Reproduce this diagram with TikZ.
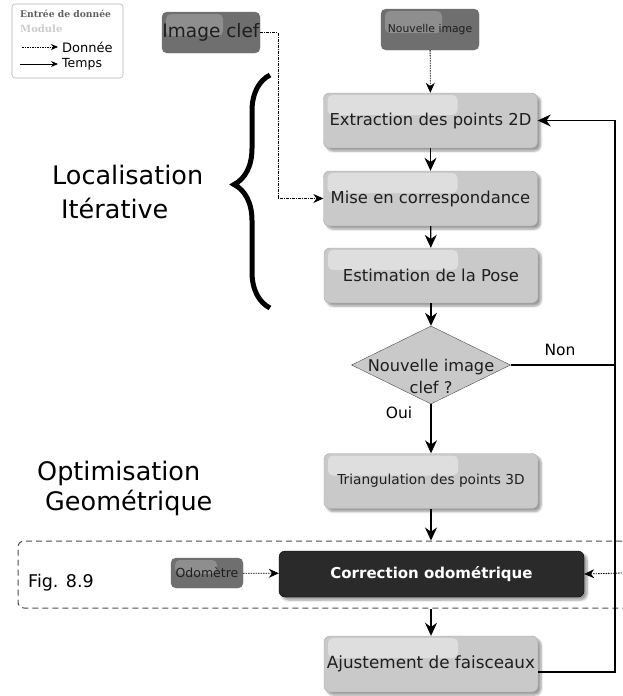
\documentclass[tikz,border=0pt]{standalone}
\usepackage{fontspec}
\setmainfont{DejaVu Sans}
\newfontfamily\legserif{DejaVu Serif}
\usetikzlibrary{shapes.geometric, arrows.meta, shadows.blur, decorations.pathreplacing, calc}

\definecolor{boxgray}{HTML}{C9C9C9}
\definecolor{darkbox}{HTML}{6F6F6F}
\definecolor{nightbox}{HTML}{2A2A2A}
\definecolor{inkgray}{HTML}{1E1E1E}

\begin{document}
\begin{tikzpicture}[x=1pt, y=1pt,
    % glossy highlight in the upper left corner of a box, drawn under its text
    glare/.style n args={3}{path picture={
        \fill[white, opacity=#1, rounded corners=5pt]
            ($(path picture bounding box.north west)+(4,-2)$) rectangle ++(#2,-#3);}},
    module/.style={draw=gray!70, fill=boxgray, rounded corners=6pt, minimum width=214pt, minimum height=55pt,
        inner sep=0pt, text=inkgray, font=\fontsize{16.4}{19}\selectfont, glare={0.4}{130}{20},
        blur shadow={shadow xshift=3pt, shadow yshift=-3pt, shadow blur steps=6}},
    source/.style={draw=gray!90!black, fill=darkbox, rounded corners=5pt, inner sep=0pt, text=inkgray},
    decision/.style={diamond, draw=gray!60!black, fill=boxgray, minimum width=159pt, minimum height=78pt, inner sep=0pt},
    flow/.style={-{Stealth[length=13pt, width=12pt]}, line width=1.3pt},
    plain/.style={line width=1.3pt},
    data/.style={-{Stealth[length=10pt, width=9pt]}, line width=0.8pt, dash pattern=on 1.5pt off 1pt},
    keydata/.style={-{Stealth[length=10pt, width=9pt]}, line width=0.8pt, dash pattern=on 3pt off 1pt on 1pt off 1pt},
    biglabel/.style={anchor=west, inner sep=0pt, font=\fontsize{25.5}{30}\selectfont}]

    \useasboundingbox (0,0) rectangle (622,-696);

    % --- LEGEND ---
    \node[draw=gray!60, rounded corners=3pt, line width=0.6pt, minimum width=111pt, minimum height=74pt] (legend) at (67.5,-41) {};
    \node[anchor=west, inner sep=0pt, font=\legserif\bfseries\fontsize{9.2}{10}\selectfont, text=gray!75!black] (legin) at (20,-14) {Entrée de donnée};
    \node[anchor=west, inner sep=0pt, font=\legserif\bfseries\fontsize{10}{11}\selectfont, text=gray!40] (legmod) at (20,-29) {Module};
    \node[anchor=west, inner sep=0pt, font=\fontsize{13}{15}\selectfont] (legdata) at (62,-47) {Donnée};
    \node[anchor=west, inner sep=0pt, font=\fontsize{12.5}{15}\selectfont] (legtime) at (62,-64) {Temps};
    \coordinate (legdata0) at (22,-47);
    \coordinate (legtime0) at (20,-64);
    \draw[data, -{Stealth[length=7pt, width=6pt]}, shorten >=4pt] (legdata0) -- (legdata.west);
    \draw[flow, line width=0.9pt, -{Stealth[length=7pt, width=6pt]}, shorten >=4pt] (legtime0) -- (legtime.west);

    % --- INPUTS ---
    \node[source, glare={0.22}{57}{22}, minimum width=98pt, minimum height=41pt, font=\fontsize{18.5}{22}\selectfont] (keyimg) at (211,-32.5) {Image clef};
    \node[source, glare={0.22}{57}{22}, minimum width=98pt, minimum height=41pt, font=\fontsize{10.8}{12}\selectfont] (newimg) at (430,-29.5) {Nouvelle image};

    % --- LOCALISATION ---
    \node[module] (extract) at (430.5,-120.5) {Extraction des points 2D};
    \node[module] (match) at (430.5,-198.5) {Mise en correspondance};
    \node[module] (pose) at (431,-275.5) {Estimation de la Pose};
    \draw[data] (newimg) -- (extract);
    \draw[flow] (extract) -- (match);
    \draw[flow] (match) -- (pose);

    \coordinate (keybend) at (278,-198.5);
    \draw[keydata] (keyimg.east) -| (keybend) -- (match.west);

    \node[biglabel] (loclab) at (52,-175) {Localisation};
    \node[biglabel] (itlab) at (61,-208) {Itérative};
    \draw[decorate, decoration={brace, amplitude=36pt, aspect=0.53}, line width=5pt] (270,-308) -- (270,-75);

    % --- DECISION ---
    \node[decision] (dec) at (431,-365) {};
    \node[align=center, inner sep=0pt, text=inkgray, font=\fontsize{16.2}{22}\selectfont] (declab) at (431,-376) {Nouvelle image\\clef ?};
    \draw[flow] (pose) -- (dec.north);
    \node[font=\fontsize{15.5}{18}\selectfont] (nonlab) at (560,-350) {Non};
    \node[font=\fontsize{15.5}{18}\selectfont] (ouilab) at (399,-413) {Oui};

    % --- OPTIMISATION ---
    \node[module, font=\fontsize{13.7}{16}\selectfont] (tri) at (431,-481) {Triangulation des points 3D};
    \draw[flow] (dec.south) -- (tri.north);

    \node[biglabel] (optlab) at (37,-473) {Optimisation};
    \node[biglabel] (geolab) at (45,-503) {Geométrique};

    % Fig. 8.9 frame
    \node[draw=black!70, dash pattern=on 6pt off 4pt, rounded corners=6pt, line width=1pt,
        minimum width=640pt, minimum height=67pt] (fig) at (338,-574.5) {};
    \node[anchor=west, inner sep=0pt, font=\fontsize{17.5}{20}\selectfont] (figlab) at (28,-583) {Fig. 8.9};
    \draw[flow] (tri.south) -- (tri.south |- fig.north);

    \node[source, fill=nightbox, draw=black, rounded corners=6pt, minimum width=305pt, minimum height=46pt,
        text=white, font=\bfseries\fontsize{15}{18}\selectfont,
        blur shadow={shadow xshift=3pt, shadow yshift=-3pt, shadow blur steps=6}] (corr) at (431.5,-574) {Correction odométrique};
    \node[source, glare={0.22}{42}{14}, minimum width=72pt, minimum height=30pt, font=\fontsize{12.5}{14}\selectfont] (odo) at (207,-573) {Odomètre};
    \draw[data] (odo) -- (corr);
    \coordinate (odoright) at (622,-573);
    \draw[data] (odoright) -- (corr.east);

    \node[module, minimum height=56pt, font=\fontsize{16.8}{20}\selectfont] (adjust) at (431,-664) {Ajustement de faisceaux};
    \draw[flow] (adjust.north |- fig.south) -- (adjust.north);

    % --- LOOP BACK ---
    \coordinate (loopback) at (615,-120.5);
    \draw[flow] ($(adjust.east)+(0,-8)$) -| (loopback) -- (extract.east);
    \draw[plain] (dec.east) -- (dec.east -| loopback);

\end{tikzpicture}
\end{document}
